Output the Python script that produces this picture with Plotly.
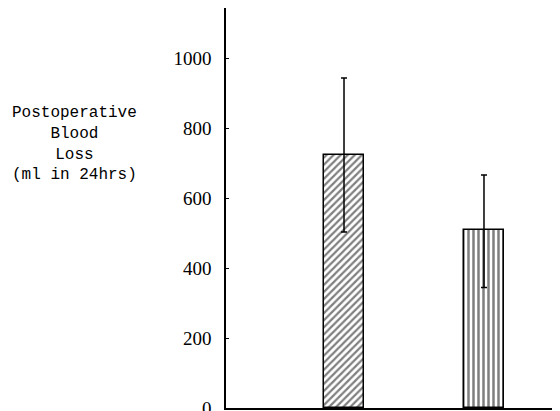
import plotly.graph_objects as go

groups = [1, 2]
means = [723, 509]
err_plus = [220, 157]
err_minus = [220, 165]
patterns = ["/", "|"]
solidities = [0.45, 0.5]
y_ticks = [0, 200, 400, 600, 800, 1000]
y_label_lines = ["Postoperative", "Blood", "Loss", "(ml in 24hrs)"]

W, H = 552, 411
L, T, B = 218, 0, 11
PW, PH = W - L, H - T - B

fig = go.Figure()
for g, m, ep, em, p, s in zip(groups, means, err_plus, err_minus, patterns, solidities):
    fig.add_trace(go.Bar(
        x=[g], y=[m], width=0.29,
        marker=dict(color="white", line=dict(color="black", width=1.5),
                    pattern=dict(shape=p, fgcolor="black", bgcolor="white",
                                 size=5, solidity=s)),
        error_y=dict(type="data", symmetric=False, array=[ep], arrayminus=[em],
                     color="black", thickness=1.5, width=3),
        showlegend=False,
    ))

fig.update_layout(
    width=W, height=H,
    margin=dict(l=L, r=0, t=T, b=B, autoexpand=False),
    paper_bgcolor="white", plot_bgcolor="white",
    bargap=0,
    xaxis=dict(range=[0.157, 2.543], showticklabels=False, ticks="",
               showgrid=False, zeroline=False, showline=True,
               linecolor="black", linewidth=1.5),
    yaxis=dict(range=[0, 1143], tickvals=y_ticks, ticks="inside", ticklen=3,
               tickcolor="black", showgrid=False, zeroline=False,
               showline=True, linecolor="black", linewidth=1.5,
               tickfont=dict(family="Liberation Serif", size=19, color="black"),
               ticklabelstandoff=9),
    annotations=[dict(
        text="<br>".join(y_label_lines), xref="paper", yref="paper",
        x=(66 - L) / PW, y=1 - 135.5 / PH, xanchor="center", yanchor="middle",
        showarrow=False, align="center",
        font=dict(family="Liberation Mono", size=16, color="black"),
    )],
)

fig.write_html("out.html")
